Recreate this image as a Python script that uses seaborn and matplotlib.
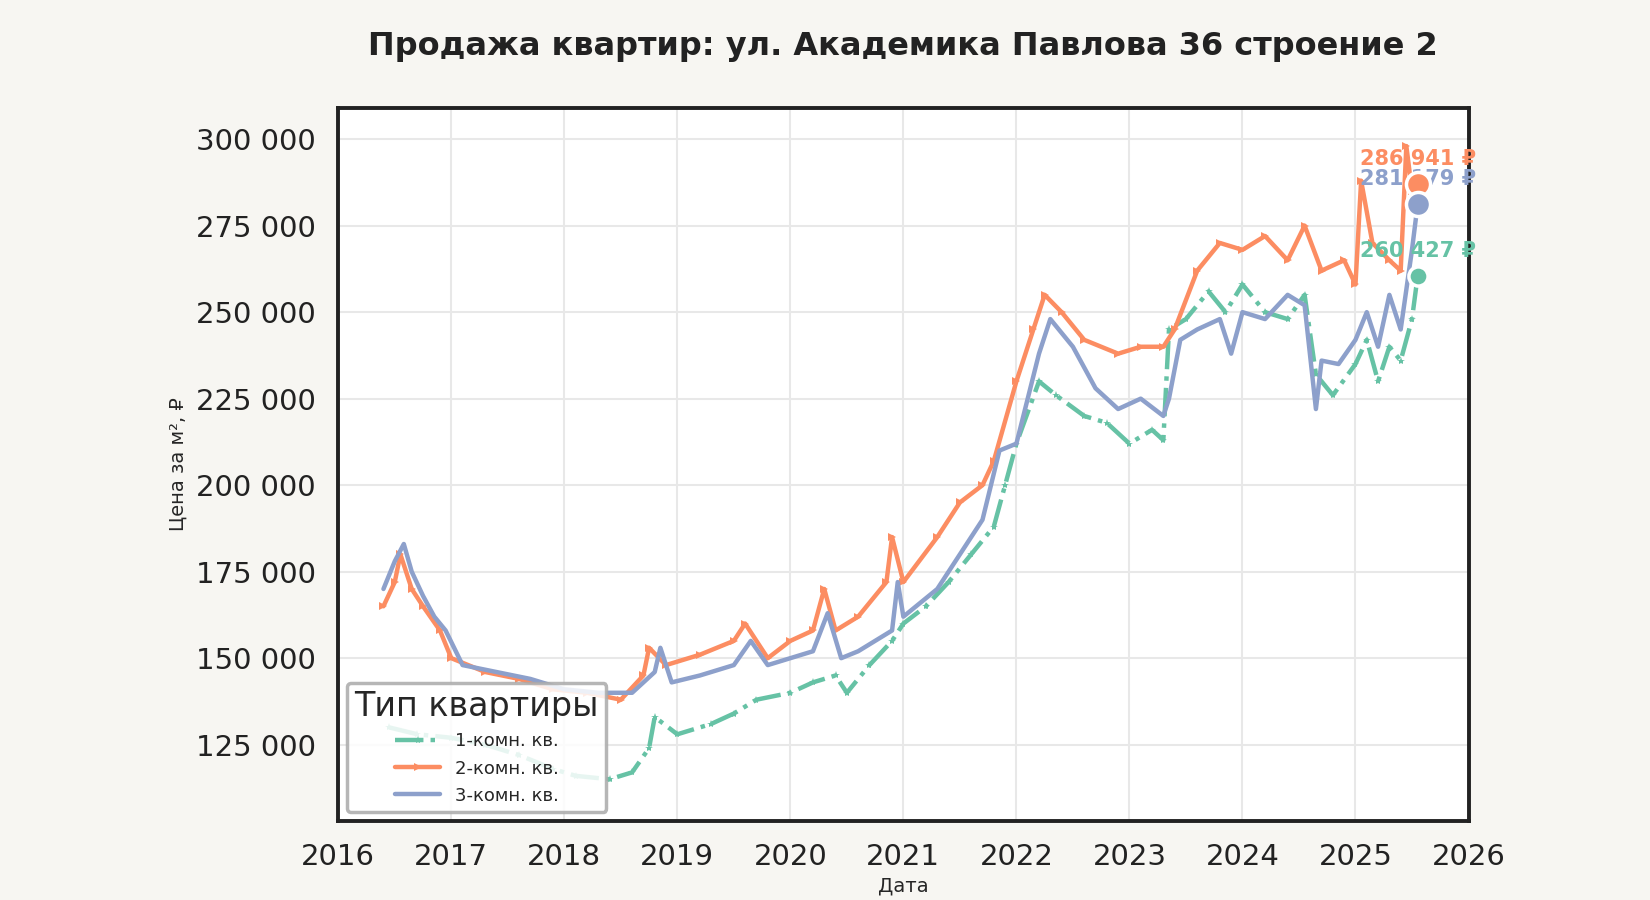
import matplotlib
matplotlib.use("Agg")
import matplotlib.pyplot as plt
import matplotlib.ticker as mticker
import seaborn as sns
import pandas as pd

t1 = [2016.45, 2016.7, 2017.0, 2017.3, 2017.6, 2017.9, 2018.1, 2018.4, 2018.6, 2018.75, 2018.8, 2019.0, 2019.3, 2019.5, 2019.7, 2020.0, 2020.2, 2020.4, 2020.5, 2020.7, 2020.9, 2021.0, 2021.2, 2021.4, 2021.6, 2021.8, 2021.9, 2022.0, 2022.2, 2022.35, 2022.6, 2022.8, 2023.0, 2023.2, 2023.3, 2023.35, 2023.5, 2023.7, 2023.85, 2024.0, 2024.2, 2024.4, 2024.55, 2024.65, 2024.8, 2025.0, 2025.1, 2025.2, 2025.3, 2025.4, 2025.5, 2025.55]
v1 = [130000, 128000, 127000, 125000, 122000, 118000, 116000, 115000, 117000, 124000, 133000, 128000, 131000, 134000, 138000, 140000, 143000, 145000, 140000, 148000, 155000, 160000, 165000, 172000, 180000, 188000, 200000, 212000, 230000, 226000, 220000, 218000, 212000, 216000, 213000, 245000, 248000, 256000, 250000, 258000, 250000, 248000, 255000, 232000, 226000, 235000, 242000, 230000, 240000, 236000, 248000, 260427]

t2 = [2016.4, 2016.5, 2016.55, 2016.65, 2016.75, 2016.9, 2017.0, 2017.3, 2017.6, 2017.9, 2018.2, 2018.5, 2018.7, 2018.75, 2018.9, 2019.2, 2019.5, 2019.6, 2019.8, 2020.0, 2020.2, 2020.3, 2020.4, 2020.6, 2020.85, 2020.9, 2021.0, 2021.3, 2021.5, 2021.7, 2021.8, 2022.0, 2022.15, 2022.25, 2022.4, 2022.6, 2022.9, 2023.1, 2023.3, 2023.4, 2023.6, 2023.8, 2024.0, 2024.2, 2024.4, 2024.55, 2024.7, 2024.9, 2025.0, 2025.05, 2025.15, 2025.3, 2025.4, 2025.45, 2025.5, 2025.55]
v2 = [165000, 172000, 180000, 170000, 165000, 158000, 150000, 146000, 144000, 141000, 140000, 138000, 145000, 153000, 148000, 151000, 155000, 160000, 150000, 155000, 158000, 170000, 158000, 162000, 172000, 185000, 172000, 185000, 195000, 200000, 207000, 230000, 245000, 255000, 250000, 242000, 238000, 240000, 240000, 245000, 262000, 270000, 268000, 272000, 265000, 275000, 262000, 265000, 258000, 288000, 270000, 265000, 262000, 298000, 285000, 286941]

t3 = [2016.4, 2016.5, 2016.58, 2016.65, 2016.75, 2016.85, 2016.95, 2017.1, 2017.4, 2017.7, 2018.0, 2018.3, 2018.6, 2018.8, 2018.85, 2018.95, 2019.2, 2019.5, 2019.65, 2019.8, 2020.0, 2020.2, 2020.33, 2020.45, 2020.6, 2020.9, 2020.95, 2021.0, 2021.3, 2021.5, 2021.7, 2021.85, 2022.0, 2022.2, 2022.3, 2022.5, 2022.7, 2022.9, 2023.1, 2023.3, 2023.35, 2023.45, 2023.6, 2023.8, 2023.9, 2024.0, 2024.2, 2024.4, 2024.55, 2024.65, 2024.7, 2024.85, 2025.0, 2025.1, 2025.2, 2025.3, 2025.4, 2025.5, 2025.55]
v3 = [170000, 178000, 183000, 175000, 168000, 162000, 158000, 148000, 146000, 144000, 141000, 140000, 140000, 146000, 153000, 143000, 145000, 148000, 155000, 148000, 150000, 152000, 163000, 150000, 152000, 158000, 172000, 162000, 170000, 180000, 190000, 210000, 212000, 238000, 248000, 240000, 228000, 222000, 225000, 220000, 225000, 242000, 245000, 248000, 238000, 250000, 248000, 255000, 252000, 222000, 236000, 235000, 242000, 250000, 240000, 255000, 245000, 268000, 281179]

names = ["1-комн. кв.", "2-комн. кв.", "3-комн. кв."]
colors = ["#66c2a5", "#fc8d62", "#8da0cb"]
last_labels = ["260 427 ₽", "286 941 ₽", "281 179 ₽"]
year_ticks = list(range(2016, 2027))

sns.set_theme(style="whitegrid")
plt.rcParams['font.family'] = ['DejaVu Sans']
bg = "#f7f6f2"
fig = plt.figure(figsize=(16.5, 9), dpi=100, facecolor=bg)
ax = fig.add_axes([0.205, 0.088, 0.685, 0.792])
ax.set_facecolor("white")

series = [(t1, v1, "-.", "*"), (t2, v2, "-", ">"), (t3, v3, "-", None)]
for (t, v, ls, mk), name, c in zip(series, names, colors):
    df = pd.DataFrame({"x": t, "y": v})
    sns.lineplot(data=df, x="x", y="y", ax=ax, color=c, linestyle=ls, marker=mk,
                 markersize=6, markeredgewidth=0, linewidth=3.2, label=name)

for (t, v, _, _), c, lab in zip(series, colors, last_labels):
    ax.scatter([t[-1]], [v[-1]], s=300 if c != colors[0] else 190, color=c,
               edgecolor="white", linewidth=2.5, zorder=5)
    ax.annotate(lab, (t[-1], v[-1]), xytext=(0, 14), textcoords="offset points",
                ha="center", fontsize=15, fontweight="bold", color=c)
ax.set_xlim(2016, 2026)
ax.set_ylim(103000, 309000)
ax.set_xticks(year_ticks)
ax.yaxis.set_major_locator(mticker.MultipleLocator(25000))
ax.yaxis.set_major_formatter(mticker.FuncFormatter(lambda x, p: f"{int(x):,}".replace(",", " ")))
ax.tick_params(labelsize=21, colors="#222222", pad=10)
ax.grid(color="#e8e8e8", linewidth=1.5)
for s in ax.spines.values():
    s.set_color("#222222"); s.set_linewidth(2.8)
ax.set_xlabel("Дата", fontsize=14, labelpad=4)
ax.set_ylabel("Цена за м², ₽", fontsize=14, labelpad=6)
leg = ax.legend(title="Тип квартиры", loc="lower left", fontsize=13, title_fontsize=24,
                frameon=True, framealpha=0.85, edgecolor="#aaaaaa", borderaxespad=0.5,
                handlelength=2.5)
leg.get_frame().set_linewidth(2.5)
fig.suptitle("Продажа квартир: ул. Академика Павлова 36 строение 2", x=0.547, y=0.965,
             fontsize=23, fontweight="bold", color="#222222")
fig.savefig("out.png", dpi=100, facecolor=bg)
